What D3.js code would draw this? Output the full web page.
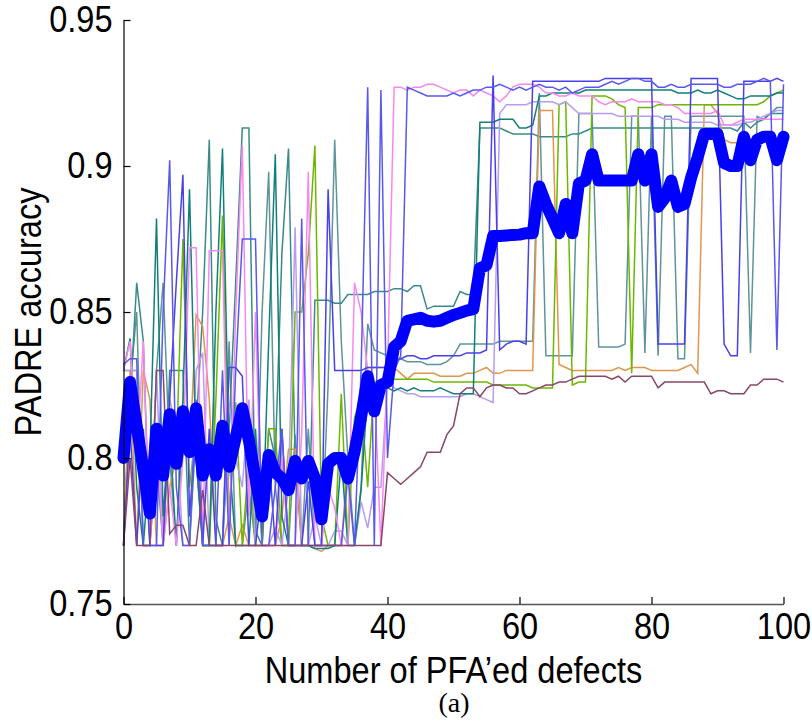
<!DOCTYPE html>
<html><head><meta charset="utf-8">
<script src="https://cdn.jsdelivr.net/npm/d3@7"></script>
<style>html,body{margin:0;padding:0;background:#fff;}svg{display:block;}</style>
</head><body>
<svg id="chart" width="812" height="726"></svg>
<script>
// ---------- data ----------
const defects = d3.range(0, 101); // Number of PFA'ed defects, 0..100
const xTicks = [0, 20, 40, 60, 80, 100];
const yTicks = [0.75, 0.8, 0.85, 0.9, 0.95];
const yTickLabels = ["0.75", "0.8", "0.85", "0.9", "0.95"];

const runBlueA = [0.832,0.834,0.834,0.770,0.770,0.770,0.850,0.902,0.790,0.770,
 0.770,0.820,0.770,0.770,0.770,0.830,0.770,0.830,0.875,0.875,
 0.875,0.770,0.770,0.790,0.810,0.770,0.770,0.882,0.770,0.770,
 0.770,0.770,0.770,0.770,0.794,0.770,0.830,0.927,0.770,0.926,
 0.800,0.830,0.835,0.927,0.926,0.925,0.924,0.924,0.924,0.924,
 0.925,0.924,0.925,0.926,0.926,0.927,0.927,0.928,0.927,0.926,
 0.927,0.926,0.927,0.928,0.927,0.927,0.926,0.927,0.925,0.926,
 0.927,0.927,0.927,0.928,0.929,0.928,0.929,0.930,0.930,0.929,
 0.929,0.927,0.927,0.928,0.927,0.927,0.928,0.928,0.928,0.928,
 0.928,0.927,0.927,0.928,0.928,0.928,0.929,0.930,0.929,0.837,
 0.928];
const runPink = [0.830,0.840,0.800,0.840,0.770,0.808,0.770,0.790,0.770,0.800,
 0.872,0.872,0.770,0.871,0.871,0.871,0.770,0.850,0.907,0.780,
 0.850,0.770,0.770,0.770,0.800,0.770,0.770,0.808,0.898,0.770,
 0.770,0.790,0.783,0.770,0.770,0.860,0.850,0.830,0.825,0.770,
 0.830,0.927,0.927,0.926,0.927,0.927,0.928,0.928,0.927,0.926,
 0.925,0.926,0.926,0.924,0.926,0.925,0.924,0.922,0.924,0.927,
 0.928,0.928,0.928,0.927,0.925,0.925,0.924,0.924,0.925,0.924,
 0.924,0.924,0.922,0.921,0.922,0.922,0.922,0.923,0.922,0.922,
 0.922,0.922,0.921,0.921,0.920,0.918,0.918,0.918,0.918,0.918,
 0.919,0.914,0.914,0.915,0.916,0.916,0.916,0.916,0.916,0.916,
 0.916];
const runDarkTeal = [0.830,0.841,0.790,0.770,0.800,0.882,0.780,0.810,0.770,0.820,
 0.892,0.800,0.770,0.770,0.850,0.906,0.800,0.770,0.770,0.770,
 0.810,0.770,0.840,0.904,0.780,0.770,0.770,0.770,0.770,0.769,
 0.769,0.769,0.770,0.800,0.770,0.770,0.789,0.823,0.823,0.824,
 0.824,0.823,0.824,0.823,0.824,0.823,0.823,0.823,0.824,0.823,
 0.822,0.822,0.822,0.822,0.915,0.915,0.915,0.916,0.916,0.916,
 0.913,0.913,0.914,0.924,0.924,0.925,0.925,0.925,0.925,0.925,
 0.926,0.926,0.926,0.926,0.926,0.926,0.926,0.926,0.926,0.926,
 0.926,0.926,0.926,0.926,0.925,0.925,0.925,0.926,0.925,0.925,
 0.926,0.925,0.924,0.923,0.923,0.924,0.924,0.924,0.924,0.925,
 0.925];
const runTeal = [0.770,0.820,0.860,0.840,0.770,0.800,0.770,0.830,0.830,0.830,
 0.770,0.810,0.850,0.909,0.779,0.770,0.810,0.860,0.913,0.913,
 0.775,0.770,0.810,0.800,0.870,0.906,0.800,0.770,0.770,0.854,
 0.854,0.854,0.853,0.853,0.856,0.856,0.856,0.856,0.857,0.857,
 0.857,0.858,0.858,0.857,0.859,0.859,0.851,0.852,0.852,0.852,
 0.852,0.857,0.856,0.856,0.913,0.913,0.913,0.913,0.912,0.911,
 0.911,0.911,0.911,0.910,0.910,0.910,0.910,0.910,0.911,0.911,
 0.912,0.913,0.913,0.913,0.913,0.913,0.913,0.913,0.913,0.913,
 0.913,0.913,0.913,0.913,0.913,0.913,0.913,0.913,0.913,0.913,
 0.913,0.913,0.913,0.912,0.915,0.913,0.915,0.916,0.918,0.918,
 0.918];
const runLavender = [0.830,0.830,0.830,0.770,0.770,0.830,0.770,0.820,0.810,0.770,
 0.770,0.830,0.836,0.770,0.770,0.770,0.819,0.800,0.790,0.820,
 0.770,0.770,0.770,0.776,0.770,0.790,0.879,0.770,0.770,0.780,
 0.770,0.770,0.775,0.775,0.770,0.770,0.785,0.776,0.790,0.790,
 0.826,0.824,0.823,0.822,0.822,0.821,0.821,0.821,0.821,0.821,
 0.821,0.821,0.822,0.822,0.821,0.820,0.819,0.918,0.921,0.921,
 0.921,0.921,0.922,0.922,0.922,0.922,0.921,0.922,0.920,0.918,
 0.918,0.918,0.918,0.918,0.918,0.917,0.917,0.917,0.917,0.917,
 0.917,0.917,0.916,0.916,0.916,0.915,0.915,0.915,0.915,0.915,
 0.914,0.914,0.914,0.914,0.915,0.915,0.916,0.917,0.918,0.919,
 0.919];
const runOrange = [0.770,0.830,0.770,0.830,0.820,0.770,0.770,0.790,0.800,0.810,
 0.800,0.849,0.845,0.820,0.770,0.770,0.780,0.770,0.777,0.770,
 0.770,0.770,0.770,0.770,0.780,0.803,0.803,0.770,0.770,0.769,
 0.768,0.770,0.770,0.770,0.800,0.810,0.820,0.831,0.831,0.831,
 0.831,0.831,0.829,0.827,0.829,0.829,0.829,0.829,0.828,0.828,
 0.828,0.828,0.829,0.829,0.830,0.831,0.829,0.829,0.830,0.830,
 0.830,0.830,0.830,0.919,0.919,0.919,0.832,0.831,0.830,0.830,
 0.830,0.830,0.830,0.830,0.830,0.831,0.830,0.831,0.831,0.831,
 0.830,0.830,0.830,0.830,0.830,0.831,0.832,0.829,0.921,0.921,
 0.918,0.909,0.908,0.908,0.908,0.909,0.909,0.909,0.909,0.909,
 0.909];
const runGreen = [0.830,0.830,0.830,0.790,0.800,0.810,0.770,0.810,0.800,0.875,
 0.790,0.810,0.770,0.770,0.820,0.883,0.780,0.819,0.770,0.800,
 0.770,0.770,0.810,0.810,0.770,0.770,0.850,0.850,0.870,0.907,
 0.780,0.770,0.770,0.822,0.770,0.814,0.820,0.790,0.826,0.826,
 0.826,0.827,0.827,0.827,0.827,0.827,0.827,0.826,0.826,0.826,
 0.826,0.826,0.826,0.826,0.826,0.826,0.825,0.825,0.825,0.825,
 0.825,0.825,0.824,0.824,0.824,0.824,0.921,0.922,0.825,0.826,
 0.826,0.924,0.924,0.924,0.923,0.921,0.920,0.829,0.920,0.920,
 0.920,0.921,0.921,0.921,0.921,0.921,0.921,0.921,0.921,0.921,
 0.921,0.921,0.921,0.921,0.921,0.921,0.921,0.922,0.924,0.925,
 0.926];
const runBlueB = [0.770,0.810,0.770,0.810,0.770,0.770,0.770,0.820,0.860,0.897,
 0.780,0.810,0.770,0.810,0.770,0.770,0.831,0.831,0.828,0.770,
 0.770,0.790,0.802,0.770,0.810,0.770,0.770,0.770,0.792,0.770,
 0.770,0.892,0.830,0.830,0.830,0.830,0.830,0.831,0.831,0.831,
 0.831,0.833,0.834,0.835,0.835,0.834,0.834,0.835,0.835,0.835,
 0.835,0.835,0.836,0.836,0.836,0.837,0.931,0.837,0.839,0.840,
 0.840,0.839,0.929,0.929,0.929,0.929,0.929,0.929,0.929,0.929,
 0.929,0.929,0.929,0.930,0.930,0.930,0.930,0.930,0.930,0.930,
 0.930,0.839,0.839,0.839,0.839,0.839,0.930,0.930,0.930,0.930,
 0.930,0.839,0.835,0.835,0.929,0.929,0.929,0.929,0.929,0.930,
 0.929];
const runGreyTeal = [0.770,0.825,0.850,0.770,0.770,0.830,0.860,0.800,0.770,0.810,
 0.806,0.800,0.770,0.770,0.770,0.770,0.840,0.770,0.770,0.790,
 0.770,0.850,0.898,0.790,0.770,0.770,0.808,0.770,0.810,0.770,
 0.770,0.825,0.909,0.840,0.800,0.770,0.790,0.846,0.837,0.836,
 0.835,0.834,0.834,0.833,0.833,0.833,0.832,0.832,0.832,0.833,
 0.835,0.839,0.839,0.839,0.839,0.839,0.839,0.840,0.840,0.840,
 0.840,0.840,0.840,0.925,0.835,0.835,0.835,0.835,0.835,0.918,
 0.918,0.918,0.838,0.838,0.838,0.838,0.839,0.917,0.917,0.836,
 0.917,0.835,0.917,0.917,0.834,0.834,0.917,0.917,0.917,0.917,
 0.917,0.917,0.917,0.917,0.917,0.836,0.917,0.916,0.918,0.920,
 0.920];
const runMaroon = [0.770,0.800,0.770,0.770,0.770,0.830,0.830,0.774,0.777,0.777,
 0.770,0.770,0.789,0.770,0.770,0.770,0.770,0.770,0.770,0.770,
 0.770,0.770,0.770,0.770,0.770,0.770,0.770,0.770,0.770,0.770,
 0.770,0.770,0.770,0.770,0.770,0.770,0.770,0.770,0.770,0.770,
 0.795,0.793,0.791,0.793,0.795,0.797,0.802,0.802,0.802,0.808,
 0.811,0.822,0.824,0.824,0.821,0.824,0.825,0.825,0.824,0.824,
 0.822,0.822,0.823,0.824,0.825,0.825,0.826,0.826,0.827,0.828,
 0.828,0.828,0.828,0.828,0.827,0.828,0.826,0.828,0.828,0.828,
 0.828,0.824,0.826,0.826,0.826,0.826,0.826,0.826,0.826,0.822,
 0.823,0.823,0.822,0.822,0.822,0.825,0.825,0.827,0.827,0.827,
 0.826];
const meanAccuracy = [0.800,0.826,0.811,0.796,0.781,0.810,0.794,0.815,0.798,0.816,
 0.802,0.817,0.794,0.803,0.794,0.811,0.797,0.807,0.817,0.806,
 0.793,0.780,0.801,0.795,0.793,0.789,0.799,0.793,0.799,0.793,
 0.779,0.798,0.800,0.800,0.793,0.802,0.814,0.828,0.816,0.825,
 0.826,0.838,0.840,0.847,0.8475,0.848,0.847,0.8467,0.847,0.848,
 0.849,0.8497,0.8505,0.851,0.865,0.866,0.876,0.876,0.8762,0.8764,
 0.8765,0.877,0.877,0.893,0.887,0.882,0.877,0.887,0.877,0.894,
 0.895,0.904,0.895,0.895,0.895,0.895,0.895,0.895,0.904,0.895,
 0.904,0.886,0.889,0.895,0.886,0.887,0.896,0.903,0.911,0.911,
 0.911,0.901,0.900,0.900,0.910,0.902,0.909,0.910,0.910,0.902,
 0.910];

const runs = [
  {values: runGreyTeal, color: "#5f949a"},
  {values: runTeal,     color: "#3a8a8a"},
  {values: runOrange,   color: "#e0964e"},
  {values: runGreen,    color: "#6cb800"},
  {values: runLavender, color: "#b89bf3"},
  {values: runDarkTeal, color: "#127f7a"},
  {values: runPink,     color: "#f688f1"},
  {values: runBlueB,    color: "#4a40ea"},
  {values: runBlueA,    color: "#5858ee"},
  {values: runMaroon,   color: "#884768"}
];

// ---------- chart ----------
const svg = d3.select("#chart");
const x = d3.scaleLinear().domain([0, 100]).range([123.5, 783.5]);
const y = d3.scaleLinear().domain([0.75, 0.95]).range([604, 20]);
const FONT = "'Liberation Sans', Arial, Helvetica, sans-serif";
const FS = 37, SX = 0.88;

const line = d3.line().x((d, i) => x(defects[i])).y(d => y(d));

const gLines = svg.append("g");
runs.forEach(r => {
  gLines.append("path").datum(r.values)
    .attr("d", line).attr("fill", "none")
    .attr("stroke", r.color).attr("stroke-width", 1.5)
    .attr("stroke-linejoin", "miter");
});
svg.append("path").datum(meanAccuracy)
  .attr("d", line).attr("fill", "none")
  .attr("stroke", "#0000ff").attr("stroke-width", 12)
  .attr("stroke-linejoin", "round").attr("stroke-linecap", "round");

// axes
const gx = svg.append("g").attr("transform", "translate(0,604)")
  .call(d3.axisBottom(x).tickValues(xTicks).tickFormat(d3.format("d"))
        .tickSizeInner(-7).tickSizeOuter(0).tickPadding(9));
const gy = svg.append("g").attr("transform", "translate(123.5,0)")
  .call(d3.axisLeft(y).tickValues(yTicks).tickFormat((d, i) => yTickLabels[i])
        .tickSizeInner(-7).tickSizeOuter(0).tickPadding(11));

gx.select(".domain").attr("stroke", "#555").attr("stroke-width", 1.6);
gy.select(".domain").attr("stroke", "#000").attr("stroke-width", 1.2);
[gx, gy].forEach(g => {
  g.selectAll(".tick line").attr("stroke", "#000").attr("stroke-width", 1.2);
  g.selectAll(".tick text").attr("fill", "#000")
   .attr("font-family", FONT).attr("font-size", FS)
   .attr("transform", `scale(${SX},1)`);
});
gy.selectAll(".tick text").attr("x", -11 / SX);

// axis titles
svg.append("text")
  .attr("transform", `translate(453.5,683) scale(${SX},1)`)
  .attr("text-anchor", "middle").attr("font-family", FONT).attr("font-size", FS)
  .attr("fill", "#000").text("Number of PFA’ed defects");
svg.append("text")
  .attr("transform", `translate(41,312) rotate(-90) scale(${SX},1)`)
  .attr("text-anchor", "middle").attr("font-family", FONT).attr("font-size", FS)
  .attr("fill", "#000").text("PADRE accuracy");
svg.append("text")
  .attr("x", 454).attr("y", 712).attr("text-anchor", "middle")
  .attr("font-family", "'Liberation Serif', 'Times New Roman', serif").attr("font-size", 28)
  .attr("fill", "#000").text("(a)");
</script>
</body></html>
